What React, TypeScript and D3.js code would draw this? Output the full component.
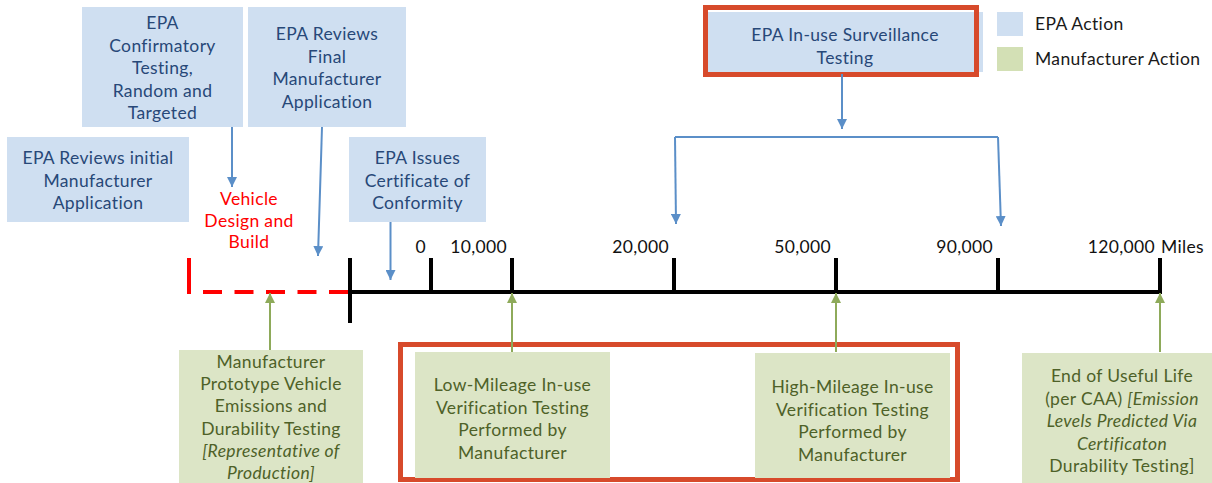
import React from 'react';
import * as d3 from 'd3';

// timeline: tick labels and their slot on the (non-linear) mileage axis
const mileageLabels = ['0', '10,000', '20,000', '50,000', '90,000', '120,000'];
const mileageSlots = [1, 2, 4, 6, 8, 10];
const phaseSlots = [-2, 0, 10]; // design start, certification, end of life

type Seg = { t: string; i?: boolean };
type Line = Seg[];
const L = (t: string, i = false): Line => [{ t, i }];

// EPA actions (blue)
const epaInitial: Line[] = [L('EPA Reviews initial'), L('Manufacturer'), L('Application')];
const epaConfirm: Line[] = [L('EPA'), L('Confirmatory'), L('Testing,'), L('Random and'), L('Targeted')];
const epaFinal: Line[] = [L('EPA Reviews'), L('Final'), L('Manufacturer'), L('Application')];
const epaCert: Line[] = [L('EPA Issues'), L('Certificate of'), L('Conformity')];
const epaSurv: Line[] = [L('EPA In-use Surveillance'), L('Testing')];
const surveillanceSlots = [4, 8];

// manufacturer actions (green)
const mfrPrototype: Line[] = [
  L('Manufacturer'), L('Prototype Vehicle'), L('Emissions and'), L('Durability Testing'),
  L('[Representative of', true), L('Production]', true),
];
const mfrLow: Line[] = [L('Low-Mileage In-use'), L('Verification Testing'), L('Performed by'), L('Manufacturer')];
const mfrHigh: Line[] = [L('High-Mileage In-use'), L('Verification Testing'), L('Performed by'), L('Manufacturer')];
const mfrEnd: Line[] = [
  L('End of Useful Life'),
  [{ t: '(per CAA) ' }, { t: '[Emission', i: true }],
  L('Levels Predicted Via', true),
  L('Certificaton', true),
  L('Durability Testing]'),
];
const mfrSlots = [-1, 2, 6, 10];

const designText = ['Vehicle', 'Design and', 'Build'];
const legendItems = ['EPA Action', 'Manufacturer Action'];

const BLUE_FILL = '#cfdff1';
const BLUE_TEXT = '#274878';
const BLUE_LINE = '#5b8fc8';
const GREEN_FILL = '#dce5c6';
const GREEN_TEXT = '#4e6128';
const GREEN_LINE = '#8eaa5a';
const RED_BOX = '#d74a2b';
const FONT = 'Lato, "Open Sans", sans-serif';
const FS = 17.5;
const LS = 0.35;
const LH = 22.6;

const TextBlock: React.FC<{ lines: Line[]; cx: number; y0: number; fill: string; lh?: number }> = ({ lines, cx, y0, fill, lh = LH }) => (
  <text x={cx} y={y0} textAnchor="middle" fontFamily={FONT} fontSize={FS} letterSpacing={LS} fill={fill}>
    {lines.map((ln, k) => (
      <tspan key={k} x={cx} y={y0 + k * lh}>
        {ln.map((s, j) => (
          <tspan key={j} fontStyle={s.i ? 'italic' : 'normal'}>{s.t}</tspan>
        ))}
      </tspan>
    ))}
  </text>
);

const Box: React.FC<{ x: number; y: number; w: number; h: number; fill: string; lines: Line[]; color: string; y0: number; lh?: number }> =
  ({ x, y, w, h, fill, lines, color, y0, lh }) => (
    <g>
      <rect x={x} y={y} width={w} height={h} fill={fill} />
      <TextBlock lines={lines} cx={x + w / 2} y0={y0} fill={color} lh={lh} />
    </g>
  );

export default function App() {
  const W = 1212, H = 483;
  const x = d3.scaleLinear().domain([-2, 10]).range([188, 1160]);
  const lineY = 292;
  const tickTop = 258;
  const line = d3.line();

  const [designX, certX, endX] = phaseSlots.map(x);

  const blueArrows: [number, number][][] = [
    [[232, 127], [232, 187]],
    [[322, 127], [318, 256]],
    [[x(0.5), 222], [x(0.5), 280]],
    [[842, 74], [842, 129]],
    [[x(surveillanceSlots[0]) + 1, 137], [x(surveillanceSlots[0]) + 2, 224]],
    [[x(surveillanceSlots[1]), 137], [x(surveillanceSlots[1]) + 3, 226]],
  ];

  const greenTops = [350, 352, 352, 352];

  return (
    <svg width={W} height={H} style={{ position: 'absolute', left: 0, top: 0, background: '#fff' }}>
      <defs>
        <marker id="ab" viewBox="0 0 10 10" refX="10" refY="5" markerWidth="5" markerHeight="5" orient="auto" markerUnits="strokeWidth">
          <path d="M0,0 L10,5 L0,10 z" fill={BLUE_LINE} />
        </marker>
        <marker id="ag" viewBox="0 0 10 10" refX="10" refY="5" markerWidth="5" markerHeight="5" orient="auto" markerUnits="strokeWidth">
          <path d="M0,0 L10,5 L0,10 z" fill={GREEN_LINE} />
        </marker>
      </defs>

      {/* EPA boxes */}
      <Box x={7} y={137} w={182} h={85} fill={BLUE_FILL} lines={epaInitial} color={BLUE_TEXT} y0={164} />
      <Box x={82} y={7} w={161} h={120} fill={BLUE_FILL} lines={epaConfirm} color={BLUE_TEXT} y0={29} />
      <Box x={248} y={7} w={158} h={120} fill={BLUE_FILL} lines={epaFinal} color={BLUE_TEXT} y0={40} />
      <Box x={349} y={137} w={137} h={85} fill={BLUE_FILL} lines={epaCert} color={BLUE_TEXT} y0={164} />
      <rect x={706} y={12} width={277} height={60} fill={BLUE_FILL} />
      <TextBlock lines={epaSurv} cx={845} y0={41} fill={BLUE_TEXT} />
      <rect x={705.5} y={7.5} width={271} height={67} fill="none" stroke={RED_BOX} strokeWidth={5} />

      {/* blue arrows */}
      {blueArrows.map((pts, k) => (
        <path key={k} d={line(pts) || ''} stroke={BLUE_LINE} strokeWidth={2} fill="none" markerEnd="url(#ab)" />
      ))}
      <path d={line([[x(surveillanceSlots[0]) + 1, 137], [x(surveillanceSlots[1]), 137]]) || ''} stroke={BLUE_LINE} strokeWidth={2} fill="none" />

      {/* design & build */}
      <text x={249} y={205} textAnchor="middle" fontFamily={FONT} fontSize={FS} letterSpacing={LS} fill="#ff0000">
        {designText.map((t, k) => <tspan key={k} x={249} y={205 + k * 21.5}>{t}</tspan>)}
      </text>
      <line x1={designX + 1} x2={designX + 1} y1={tickTop} y2={lineY + 2} stroke="#ff0000" strokeWidth={4} />
      <line x1={designX + 15} x2={certX} y1={lineY} y2={lineY} stroke="#ff0000" strokeWidth={4} strokeDasharray="19,12.5" />

      {/* timeline */}
      <line x1={certX} x2={endX + 2} y1={lineY} y2={lineY} stroke="#000" strokeWidth={4} />
      <line x1={certX} x2={certX} y1={tickTop} y2={323} stroke="#000" strokeWidth={4} />
      {mileageSlots.map((s, k) => (
        <g key={k}>
          <line x1={x(s)} x2={x(s)} y1={tickTop} y2={lineY} stroke="#000" strokeWidth={4} />
          <text x={x(s) - 5} y={253} textAnchor="end" fontFamily={FONT} fontSize={FS} letterSpacing={LS} fill="#111">{mileageLabels[k]}</text>
        </g>
      ))}
      <text x={endX + 1} y={253} fontFamily={FONT} fontSize={FS} letterSpacing={LS} fill="#111">Miles</text>

      {/* red highlight box */}
      <rect x={400.5} y={344.5} width={557} height={135} fill="none" stroke={RED_BOX} strokeWidth={5} />

      {/* manufacturer boxes */}
      <Box x={179} y={350} w={184} h={140} fill={GREEN_FILL} lines={mfrPrototype} color={GREEN_TEXT} y0={368} lh={22.2} />
      <Box x={415} y={352} w={195} h={126} fill={GREEN_FILL} lines={mfrLow} color={GREEN_TEXT} y0={391} />
      <Box x={755} y={353} w={195} h={125} fill={GREEN_FILL} lines={mfrHigh} color={GREEN_TEXT} y0={393} />
      <Box x={1022} y={353} w={200} h={140} fill={GREEN_FILL} lines={mfrEnd} color={GREEN_TEXT} y0={382} />

      {/* green arrows */}
      {mfrSlots.map((s, k) => (
        <path key={k} d={line([[x(s) + (k === 0 ? 1 : 0), greenTops[k]], [x(s) + (k === 0 ? 1 : 0), lineY + 1]]) || ''}
          stroke={GREEN_LINE} strokeWidth={2} fill="none" markerEnd="url(#ag)" />
      ))}

      {/* legend */}
      {legendItems.map((t, k) => (
        <g key={t}>
          <rect x={997} y={12 + k * 35} width={26} height={24} fill={k === 0 ? BLUE_FILL : '#d3e0b5'} />
          <text x={1035} y={30 + k * 34.5} fontFamily={FONT} fontSize={FS} letterSpacing={LS} fill="#1a1a1a">{t}</text>
        </g>
      ))}
    </svg>
  );
}
